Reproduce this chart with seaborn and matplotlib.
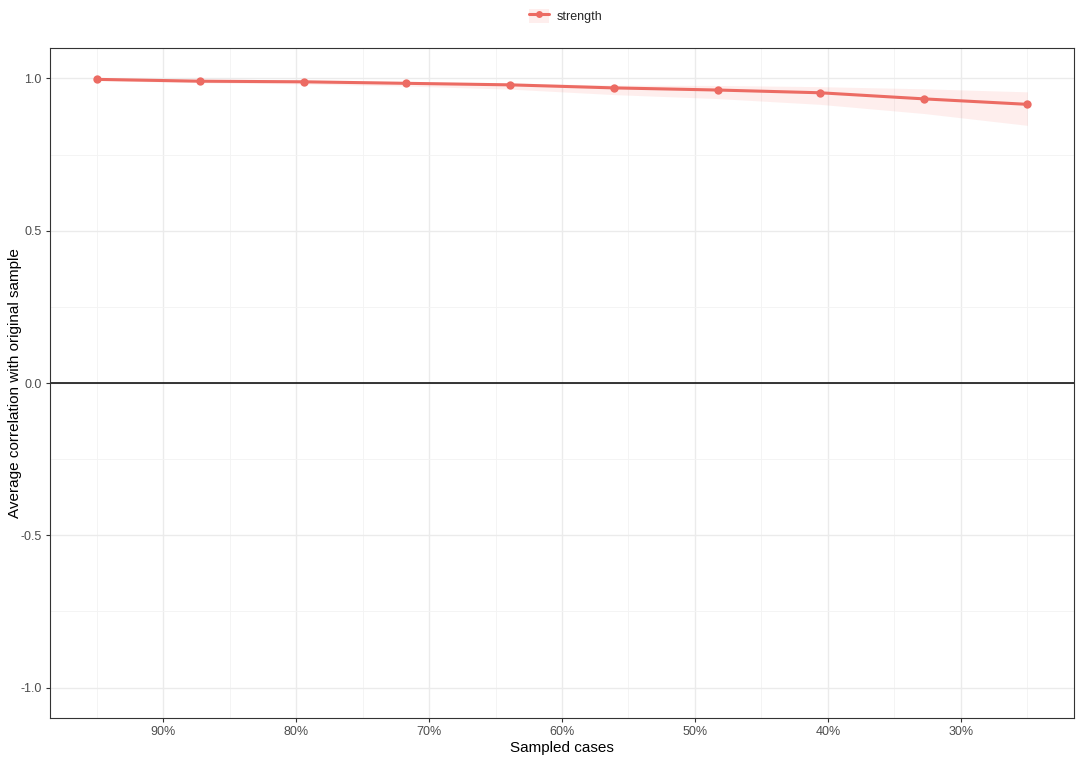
import numpy as np
import pandas as pd
import matplotlib
matplotlib.use("Agg")
import matplotlib.pyplot as plt
from matplotlib.patches import Patch
from matplotlib.lines import Line2D
import seaborn as sns

# 数据
sampled = [95.0, 87.2, 79.4, 71.7, 63.9, 56.1, 48.3, 40.6, 32.8, 25.0]
mean_cor = [0.997, 0.991, 0.989, 0.984, 0.979, 0.969, 0.962, 0.953, 0.933, 0.915]
lower = [0.993, 0.986, 0.982, 0.975, 0.965, 0.947, 0.934, 0.915, 0.885, 0.846]
upper = [0.999, 0.997, 0.994, 0.990, 0.985, 0.978, 0.977, 0.973, 0.966, 0.956]
x_ticks = [90, 80, 70, 60, 50, 40, 30]
y_ticks = [-1.0, -0.5, 0.0, 0.5, 1.0]
series_name = "strength"

df = pd.DataFrame({"sampled": sampled, "cor": mean_cor, "type": series_name})

red = "#F8766D"
line_red = "#EC6B63"

sns.set_style("white")
plt.rcParams['font.family'] = ['Liberation Sans', 'DejaVu Sans']

fig = plt.figure(figsize=(10.84, 7.6), dpi=100)
ax = fig.add_axes([50 / 1084, 1 - 718 / 760, 1024 / 1084, 670 / 760])

# 网格
ax.set_axisbelow(True)
ax.set_xticks(x_ticks)
ax.set_xticks([95, 85, 75, 65, 55, 45, 35, 25], minor=True)
ax.set_yticks(y_ticks)
ax.set_yticks([-0.75, -0.25, 0.25, 0.75], minor=True)
ax.grid(True, which="major", color="#EBEBEB", linewidth=1.0)
ax.grid(True, which="minor", color="#F3F3F3", linewidth=0.6)

ax.axhline(0, color="black", linewidth=1.1, zorder=2)

ax.fill_between(sampled, lower, upper, color=red, alpha=0.12, linewidth=0, zorder=3)
sns.lineplot(data=df, x="sampled", y="cor", color=line_red, linewidth=2.2,
             marker="o", markersize=6, markeredgewidth=0, ax=ax, zorder=4,
             legend=False)

ax.set_xlim(98.5, 21.5)
ax.set_ylim(-1.1, 1.1)
ax.set_xticklabels([f"{t}%" for t in x_ticks])
ax.set_yticklabels([f"{t:.1f}" for t in y_ticks])
ax.tick_params(axis="both", which="major", length=3, width=0.8, color="#333333",
               labelcolor="#4D4D4D", labelsize=9, direction="out", pad=3)
ax.tick_params(axis="both", which="minor", length=0)
ax.tick_params(axis="x", bottom=True)
ax.tick_params(axis="y", left=True)

for s in ax.spines.values():
    s.set_color("#333333")
    s.set_linewidth(0.8)

ax.set_xlabel("Sampled cases", fontsize=11, color="black", labelpad=2)
ax.set_ylabel("Average correlation with original sample", fontsize=11,
              color="black", labelpad=-1)

# 图例
handle = (Patch(facecolor=red, alpha=0.12, edgecolor="none"),
          Line2D([], [], color=line_red, linewidth=2.2, marker="o",
                 markersize=5, markeredgewidth=0))
fig.legend([handle], [series_name], loc="center",
           bbox_to_anchor=(0.522, 1 - 16 / 760), frameon=False, fontsize=9,
           handlelength=1.6, handleheight=1.4, handletextpad=0.6)

fig.savefig("out.png", dpi=100)
